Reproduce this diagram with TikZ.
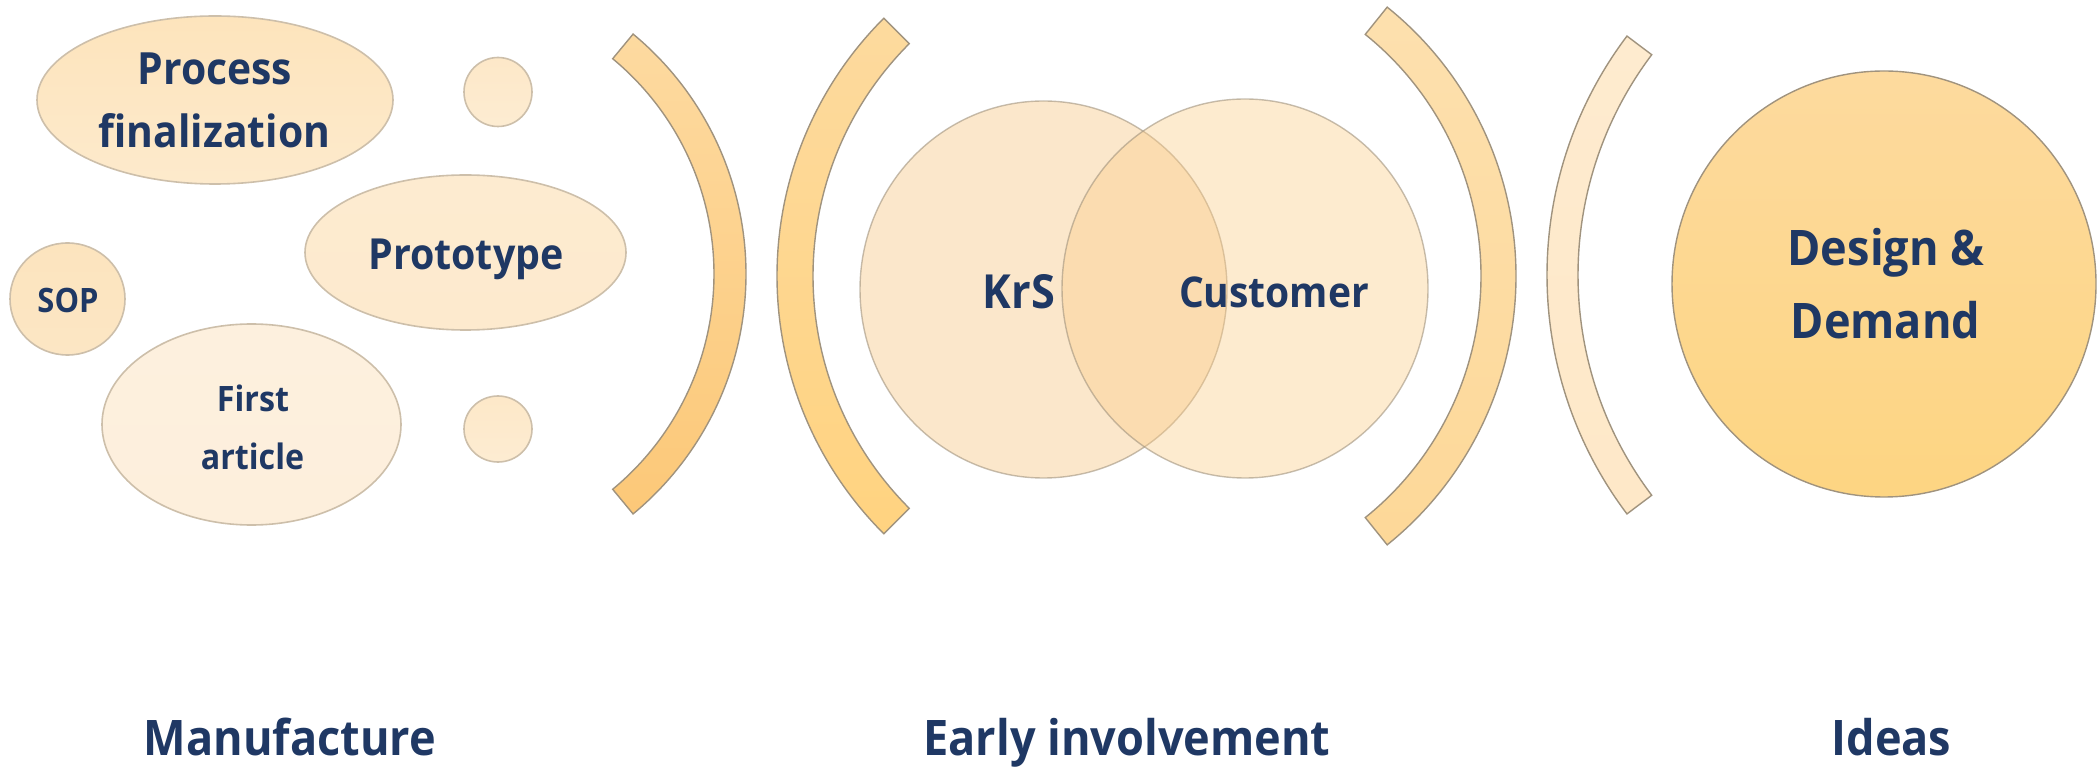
\documentclass[tikz,border=0pt]{standalone}
\usepackage{fontspec}
\setmainfont{Open Sans}[FakeStretch=0.92]
\usetikzlibrary{shapes.geometric}
\definecolor{navy}{HTML}{1F3864}
\definecolor{lineA}{HTML}{A0937E}
\definecolor{lineB}{HTML}{CDBFAA}
\definecolor{pfT}{RGB}{253,228,188}\definecolor{pfB}{RGB}{253,234,204}
\definecolor{smT}{RGB}{253,232,200}\definecolor{smB}{RGB}{253,236,210}
\definecolor{prT}{RGB}{253,235,208}\definecolor{prB}{RGB}{253,234,206}
\definecolor{soT}{RGB}{252,228,190}\definecolor{soB}{RGB}{252,230,196}
\definecolor{faT}{RGB}{253,240,222}\definecolor{faB}{RGB}{253,239,220}
\definecolor{a1T}{RGB}{253,218,160}\definecolor{a1B}{RGB}{252,200,120}
\definecolor{a2T}{RGB}{253,218,158}\definecolor{a2B}{RGB}{255,211,128}
\definecolor{a3T}{RGB}{253,224,174}\definecolor{a3B}{RGB}{253,216,152}
\definecolor{a4T}{RGB}{254,235,207}\definecolor{a4B}{RGB}{254,232,200}
\definecolor{krsF}{RGB}{246,198,130}\definecolor{cuF}{RGB}{251,204,136}
\definecolor{ddT}{RGB}{253,218,158}\definecolor{ddB}{RGB}{253,213,130}
\tikzset{
  blob/.style={ellipse, draw=lineB, line width=0.8pt, inner sep=0pt},
  band/.style={draw=lineA, line width=0.7pt},
  txt/.style={text=navy, inner sep=0pt, anchor=base},
  fsA/.style={font=\bfseries\fontsize{24.5}{30}\selectfont},
  fsK/.style={font=\bfseries\fontsize{23.5}{29}\selectfont},
  fsCu/.style={font=\bfseries\fontsize{21.2}{26}\selectfont},
  fsB/.style={font=\bfseries\fontsize{22.2}{27}\selectfont},
  fsC/.style={font=\bfseries\fontsize{21.4}{26}\selectfont},
  fsD/.style={font=\bfseries\fontsize{17.5}{22}\selectfont},
  fsE/.style={font=\bfseries\fontsize{16.8}{21}\selectfont},
}
\begin{document}
\begin{tikzpicture}[x=0.5pt,y=0.5pt]
\useasboundingbox (0,0) rectangle (2097,766);

% left group
\node[blob, minimum width=178pt, minimum height=84pt, top color=pfT, bottom color=pfB] (pf) at (215,666) {};
\node[blob, minimum width=34pt, minimum height=34.5pt, top color=smT, bottom color=smB] (s1) at (498,674) {};
\node[blob, minimum width=160.5pt, minimum height=77.5pt, top color=prT, bottom color=prB] (proto) at (465.5,513.5) {};
\node[blob, minimum width=57.5pt, minimum height=56pt, top color=soT, bottom color=soB] (sop) at (67.5,467) {};
\node[blob, minimum width=149.5pt, minimum height=100.5pt, top color=faT, bottom color=faB] (first) at (251.5,341.5) {};
\node[blob, minimum width=34pt, minimum height=33pt, top color=smT, bottom color=smB] (s2) at (498,337) {};

\node[txt, fsB] (pf1) at (215,681) {Process};
\node[txt, fsB] (pf2) at (214.5,618) {finalization};
\node[txt, fsC] (protot) at (466,496) {Prototype};
\node[txt, fsE] (sopt) at (68,453) {SOP};
\node[txt, fsD] (first1) at (253,354) {First};
\node[txt, fsD] (first2) at (252.5,296) {article};

% band arcs
\coordinate (c1) at (434.6,492);
\draw[band, top color=a1T, bottom color=a1B]
  (c1) ++(50.4:311.4) arc[start angle=50.4, end angle=-50.4, radius=311.4]
  -- ++(129.6:32) arc[start angle=-50.4, end angle=50.4, radius=279.4] -- cycle;
\coordinate (c2) at (1141.5,490);
\draw[band, top color=a2T, bottom color=a2B]
  (c2) ++(135:364.5) arc[start angle=135, end angle=225, radius=364.5]
  -- ++(45:36) arc[start angle=225, end angle=135, radius=328.5] -- cycle;
\coordinate (c3) at (1171,490);
\draw[band, top color=a3T, bottom color=a3B]
  (c3) ++(51.2:345) arc[start angle=51.2, end angle=-51.2, radius=345]
  -- ++(128.8:35) arc[start angle=-51.2, end angle=51.2, radius=310] -- cycle;
\coordinate (c4) at (1944,491);
\draw[band, top color=a4T, bottom color=a4B]
  (c4) ++(143:397) arc[start angle=143, end angle=217, radius=397]
  -- ++(37:31) arc[start angle=217, end angle=143, radius=366] -- cycle;

% middle group
\node[ellipse, draw=lineA, draw opacity=0.6, line width=0.7pt, fill=krsF, fill opacity=0.42, minimum width=183.5pt, minimum height=188.5pt, inner sep=0pt] (krs) at (1043.5,476.5) {};
\node[ellipse, draw=lineA, draw opacity=0.6, line width=0.7pt, fill=cuF, fill opacity=0.40, minimum width=183pt, minimum height=189.5pt, inner sep=0pt] (cust) at (1245,477.5) {};
\node[txt, fsK] (krst) at (1019,457) {KrS};
\node[txt, fsCu] (custt) at (1274,458) {Customer};

% right group
\node[ellipse, draw=lineA, line width=0.7pt, top color=ddT, bottom color=ddB, minimum width=212pt, minimum height=213pt, inner sep=0pt] (dd) at (1884,482) {};
\node[txt, fsA] (dd1) at (1886,500) {Design \&};
\node[txt, fsA] (dd2) at (1885.5,427) {Demand};

% bottom labels
\node[txt, fsA] (lab1) at (290,11) {Manufacture};
\node[txt, fsA] (lab2) at (1127,11) {Early involvement};
\node[txt, fsA] (lab3) at (1891.5,11) {Ideas};
\end{tikzpicture}
\end{document}
